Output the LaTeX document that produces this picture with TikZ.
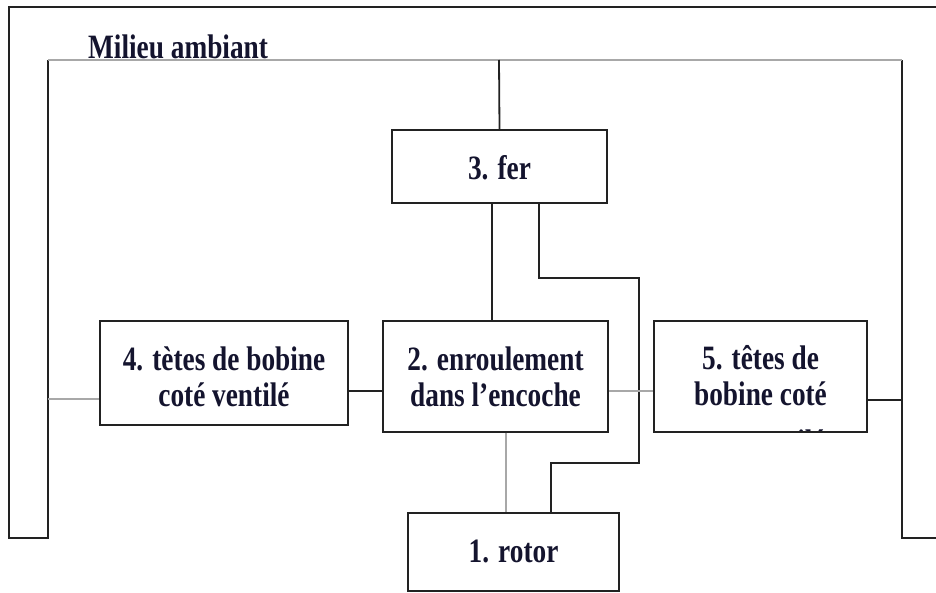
\documentclass[tikz,border=0pt]{standalone}
\usepackage{fontspec}
\setmainfont{Liberation Serif}
\usepackage{graphicx}
\definecolor{ln}{HTML}{222222}
\definecolor{gl}{HTML}{A8A8A8}
\definecolor{tx}{HTML}{14142E}
\newcommand\lbl[1]{\scalebox{1}[1.25]{\fontsize{27.3}{29.2}\selectfont\bfseries\begin{tabular}[t]{@{}c@{}}#1\end{tabular}}}
\tikzset{
  box/.style={draw=ln, line width=1.9pt, inner sep=0pt},
  lab/.style={anchor=base, inner sep=0pt, text=tx},
  dk/.style={draw=ln, line width=1.8pt},
  gr/.style={draw=gl, line width=1.8pt},
}
\begin{document}
\begin{tikzpicture}[x=1pt,y=-1pt]
\useasboundingbox (0,0) rectangle (936,592);
\clip (0,0) rectangle (936,592);
% frame coordinates
\coordinate (fA) at (9,538);
\coordinate (fB) at (9,7);
\coordinate (fC) at (950,7);
\coordinate (fE) at (48,538);
\coordinate (fF) at (48,60);
\coordinate (fG) at (902,60);
\coordinate (fH) at (902,538);
\coordinate (fI) at (950,538);
\draw[dk, line cap=rect] (fE) -- (fA) -- (fB) -- (fC);
\draw[dk] (fE) -- (fF);
\draw[dk] (fG) -- (fH) -- (fI);
\draw[draw=gl, line width=2.6pt] (fF) -- (fG);
\node[lab, anchor=base west] (mil) at (88,58) {\lbl{Milieu ambiant}};
% boxes
\node[box, minimum width=215pt, minimum height=73pt] (b3) at (499.5,166.5) {};
\node[lab] (b3t) at (499.5,179) {\lbl{3. fer}};
\node[box, minimum width=225pt, minimum height=111pt] (b2) at (495.5,376.5) {};
\node[lab] (b2t) at (495.5,370) {\lbl{2. enroulement\\dans l’encoche}};
\node[box, minimum width=248pt, minimum height=104pt] (b4) at (224,373) {};
\node[lab] (b4t) at (224,370) {\lbl{4. tètes de bobine\\coté ventilé}};
\node[box, minimum width=213pt, minimum height=111pt,
  path picture={
    \node[lab] at ([yshift=-48pt]path picture bounding box.north) {\lbl{5. têtes de\\bobine coté}};
    \node[lab] at ([yshift=-132pt]path picture bounding box.north) {\lbl{non ventilé}};
  }] (b5) at (760.5,376.5) {};
\node[box, minimum width=211pt, minimum height=78pt] (b1) at (513.5,552) {};
\node[lab] (b1t) at (513.5,562) {\lbl{1. rotor}};
% connectors
\coordinate (t3) at (499,60);
\draw[dk] (t3) -- (b3.north);
\coordinate (v1) at (492,0);
\draw[dk] (b3.south -| v1) -- (b2.north -| v1);
\coordinate (r1) at (539,278);
\coordinate (r2) at (639,278);
\coordinate (r3) at (639,463);
\coordinate (r4) at (551,463);
\draw[dk] (b3.south -| r1) -- (r1) -- (r2) -- (r3) -- (r4) -- (b1.north -| r4);
\coordinate (v2) at (506,0);
\draw[gr] (b2.south -| v2) -- (b1.north -| v2);
\coordinate (h1) at (0,391);
\draw[dk] (b4.east |- h1) -- (b2.west |- h1);
\draw[gr] (b2.east |- h1) -- (b5.west |- h1);
\coordinate (h2) at (48,399);
\draw[gr] (h2) -- (b4.west |- h2);
\coordinate (h3) at (902,400);
\draw[dk] (b5.east |- h3) -- (h3);
\end{tikzpicture}
\end{document}
